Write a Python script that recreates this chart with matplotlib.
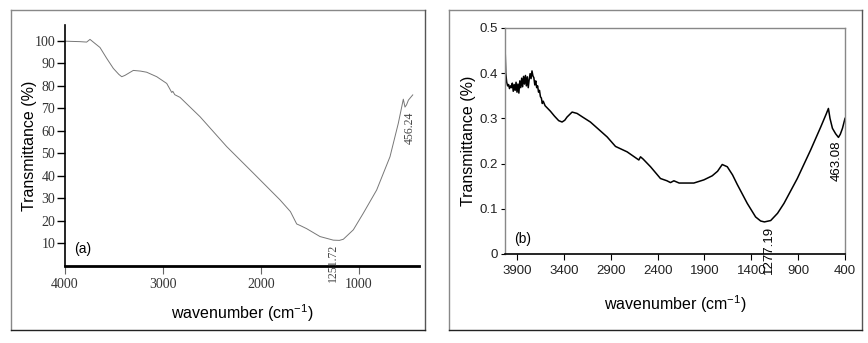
import matplotlib
matplotlib.use("Agg")
import matplotlib.pyplot as plt
from matplotlib.lines import Line2D

# ---- Data panel (a) ----
wn_a = [4000, 3850, 3779, 3745, 3700, 3643, 3575, 3507, 3450, 3421, 3388, 3303, 3230, 3167, 3064,
        2962, 2930, 2911, 2900, 2880, 2826, 2622, 2350, 2078, 1806, 1700, 1636, 1600, 1534, 1398,
        1262, 1200, 1160, 1058, 956, 820, 684, 599, 548, 531, 515, 496, 452]
t_a = [99.8, 99.6, 99.4, 100.6, 99.0, 97.0, 92.2, 87.7, 85.0, 84.0, 84.6, 86.8, 86.5, 86.0, 84.0,
       81.0, 78.5, 77.0, 77.5, 76.0, 74.8, 66.2, 52.9, 41.1, 29.2, 24.0, 18.5, 17.8, 16.4, 12.9,
       11.3, 11.2, 11.7, 15.9, 23.3, 33.6, 48.4, 63.3, 74.0, 70.5, 71.5, 73.6, 75.9]
peaks_a = [1251.72, 456.24]

# ---- Data panel (b) ----
wn_b = [4025, 4020, 4010, 4000, 3990, 3980, 3970, 3960, 3950, 3940, 3930, 3920, 3910, 3900,
        3890, 3880, 3870, 3860, 3850, 3840, 3830, 3820, 3810, 3800, 3790, 3780, 3770, 3760,
        3750, 3740, 3730, 3720, 3710, 3700, 3690, 3680, 3670, 3660, 3650, 3640, 3630, 3620,
        3600, 3544, 3500, 3455, 3419, 3390, 3366, 3312, 3259, 3200, 3117, 3030, 2938, 2849,
        2725, 2600, 2582, 2554, 2475, 2369, 2300, 2262, 2226, 2170, 2120, 2013, 1906, 1817,
        1760, 1710, 1656, 1600, 1550, 1443, 1354, 1300, 1260, 1193, 1120, 1051, 909, 767,
        659, 600, 577, 560, 534, 500, 470, 450, 427, 400]
t_b = [0.440, 0.400, 0.380, 0.372, 0.375, 0.366, 0.372, 0.368, 0.378, 0.360, 0.375, 0.362,
       0.380, 0.358, 0.376, 0.356, 0.383, 0.368, 0.389, 0.370, 0.393, 0.376, 0.395, 0.372,
       0.392, 0.368, 0.386, 0.399, 0.388, 0.405, 0.394, 0.390, 0.374, 0.383, 0.368, 0.372,
       0.358, 0.362, 0.348, 0.345, 0.333, 0.338, 0.328, 0.316, 0.305, 0.295, 0.292, 0.296,
       0.303, 0.314, 0.311, 0.303, 0.292, 0.276, 0.259, 0.238, 0.226, 0.208, 0.215, 0.210,
       0.193, 0.167, 0.162, 0.158, 0.162, 0.157, 0.157, 0.157, 0.164, 0.173, 0.183, 0.198,
       0.193, 0.175, 0.154, 0.112, 0.082, 0.073, 0.071, 0.074, 0.090, 0.112, 0.167, 0.230,
       0.281, 0.310, 0.322, 0.300, 0.278, 0.266, 0.258, 0.265, 0.278, 0.300]
peaks_b = [1277.19, 463.08]

xticks_a = [4000, 3000, 2000, 1000]
yticks_a = [10, 20, 30, 40, 50, 60, 70, 80, 90, 100]
xticks_b = [3900, 3400, 2900, 2400, 1900, 1400, 900, 400]
yticks_b = [0, 0.1, 0.2, 0.3, 0.4, 0.5]

fig = plt.figure(figsize=(8.68, 3.43), dpi=100)
W, H = 868, 343

def fbox(x0, y0, x1, y1):
    return [x0 / W, 1 - y1 / H, (x1 - x0) / W, (y1 - y0) / H]

# outer frames
def frame(x0, y0, x1, y1):
    X0, X1 = x0 / W, x1 / W
    Y0, Y1 = 1 - y1 / H, 1 - y0 / H
    fig.add_artist(Line2D([X0, X1], [Y1, Y1], color="#888888", lw=1.0))
    fig.add_artist(Line2D([X0, X0], [Y0, Y1], color="#888888", lw=1.0))
    fig.add_artist(Line2D([X1, X1], [Y0, Y1], color="#555555", lw=1.0))
    fig.add_artist(Line2D([X0, X1], [Y0, Y0], color="#222222", lw=1.0))

frame(11, 10, 425, 330)
frame(449, 10, 862, 330)

sans = "Liberation Sans"
serif = "Liberation Serif"

# ---- Panel (a) ----
axa = fig.add_axes(fbox(65, 25, 419, 266))
axa.plot(wn_a, t_a, color="#777777", lw=0.7)
axa.set_xlim(4000, 388)
axa.set_ylim(-0.2, 107)
for s in ["top", "right"]:
    axa.spines[s].set_visible(False)
axa.spines["left"].set_linewidth(1.2)
axa.spines["bottom"].set_linewidth(2.0)
axa.set_xticks(xticks_a)
axa.set_yticks(yticks_a)
axa.set_xticklabels([str(v) for v in xticks_a], fontfamily=serif, fontsize=10, color="#333333")
axa.set_yticklabels([str(v) for v in yticks_a], fontfamily=serif, fontsize=10, color="#333333")
axa.tick_params(axis="y", length=6, width=1.0, pad=1)
axa.tick_params(axis="x", length=6, width=0.8, pad=3, color="#666666")
axa.set_ylabel("Transmittance (%)", fontfamily=sans, fontsize=11.5, labelpad=-2)
axa.set_xlabel("wavenumber (cm$^{\\mathregular{-1}}$)", fontfamily=sans, fontsize=11.5, labelpad=7.5)
axa.text(3910, 7.4, "(a)", fontfamily=sans, fontsize=10, ha="left", va="center")
axa.text(1265, 9.6, f"{peaks_a[0]:.2f}", rotation=90, fontfamily=serif, fontsize=8.5,
         ha="center", va="top", color="#444444", clip_on=False)
axa.text(478, 68.5, f"{peaks_a[1]:.2f}", rotation=90, fontfamily=serif, fontsize=8.5,
         ha="center", va="top", color="#444444")

# ---- Panel (b) ----
axb = fig.add_axes(fbox(505, 28, 845, 254))
axb.plot(wn_b, t_b, color="black", lw=1.1)
axb.set_xlim(4028, 400)
axb.set_ylim(0, 0.5)
for s in ["top", "right", "left"]:
    axb.spines[s].set_color("#888888")
    axb.spines[s].set_linewidth(1.0)
axb.spines["bottom"].set_linewidth(1.2)
axb.set_xticks(xticks_b)
axb.set_yticks(yticks_b)
axb.set_xticklabels([str(v) for v in xticks_b], fontfamily=sans, fontsize=9.5, color="#222222")
axb.set_yticklabels(["0", "0.1", "0.2", "0.3", "0.4", "0.5"], fontfamily=sans, fontsize=9.5, color="#222222")
axb.tick_params(axis="y", length=3, width=0.8, pad=2)
axb.tick_params(axis="x", length=4, width=0.8, pad=4)
axb.set_ylabel("Transmittance (%)", fontfamily=sans, fontsize=11.5, labelpad=2.5)
axb.set_xlabel("wavenumber (cm$^{\\mathregular{-1}}$)", fontfamily=sans, fontsize=11.5, labelpad=12)
axb.text(3930, 0.033, "(b)", fontfamily=sans, fontsize=10, ha="left", va="center")
axb.text(1210, 0.062, f"{peaks_b[0]:.2f}", rotation=90, fontfamily=sans, fontsize=9.5,
         ha="center", va="top", clip_on=False)
axb.text(489, 0.252, f"{peaks_b[1]:.2f}", rotation=90, fontfamily=sans, fontsize=9.5,
         ha="center", va="top")

fig.savefig("out.png", dpi=100)
